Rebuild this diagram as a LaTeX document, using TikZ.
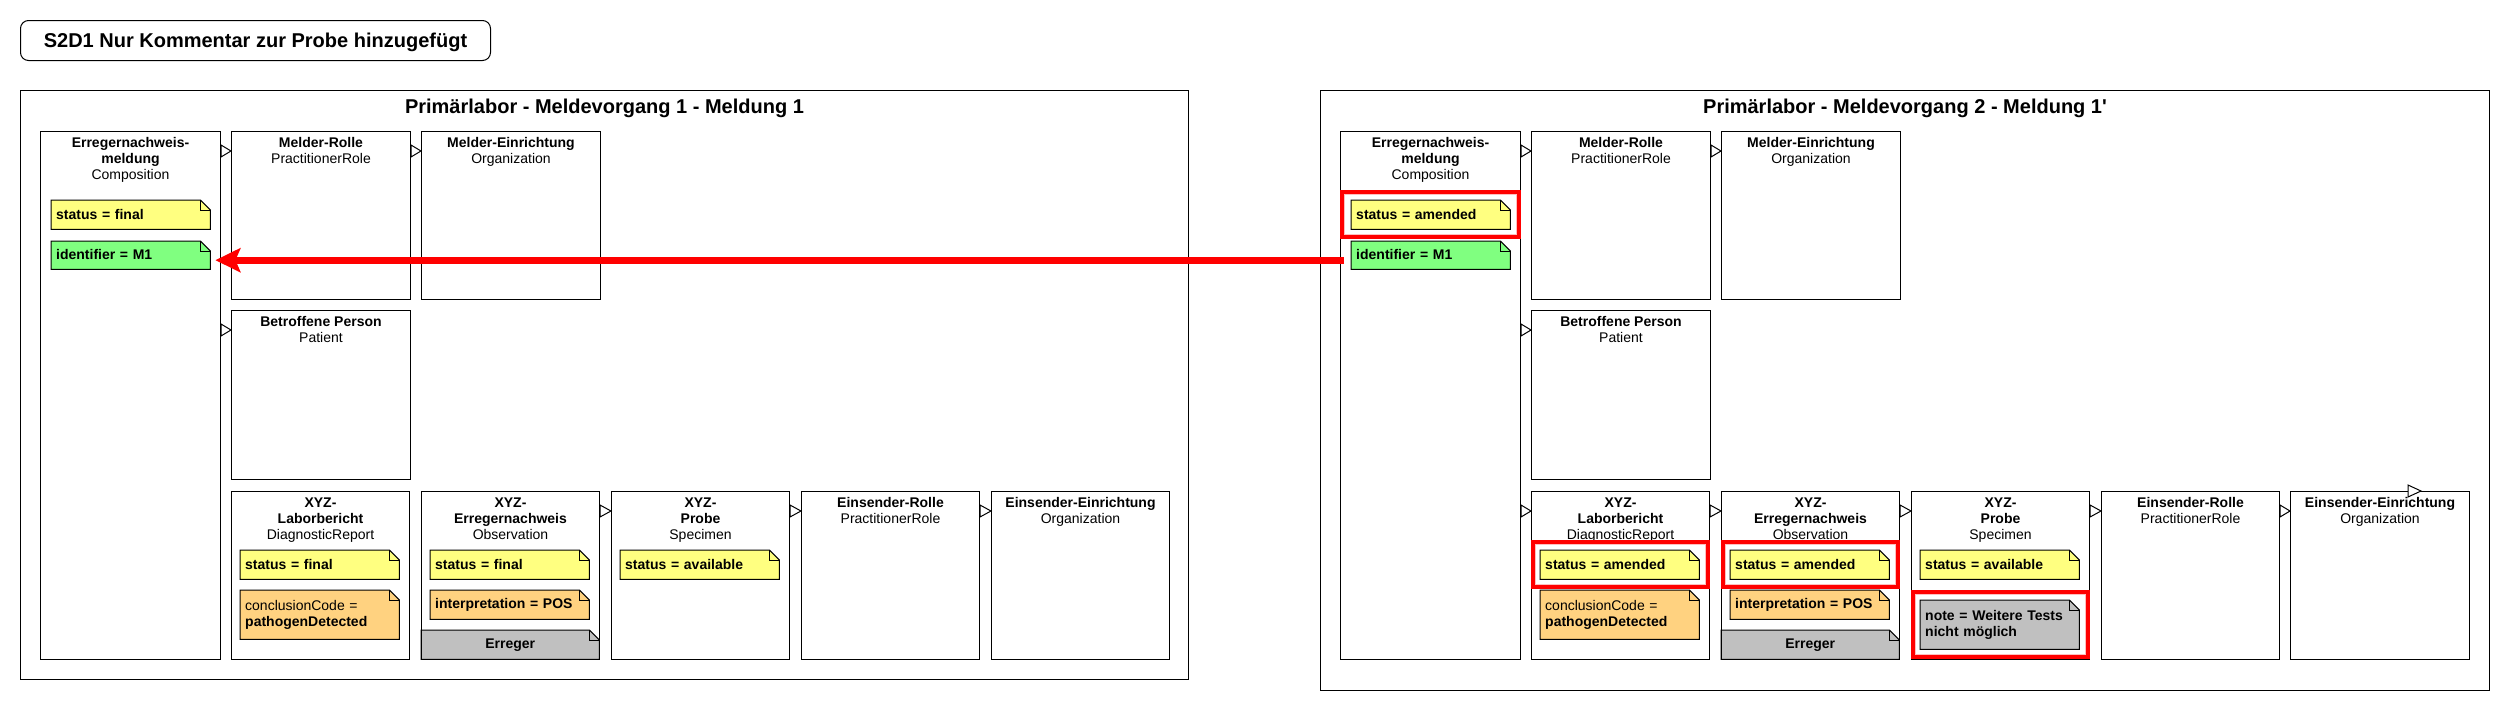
\documentclass[tikz,border=0pt]{standalone}
\usepackage{fontspec}
\setmainfont{Liberation Sans}
\usetikzlibrary{calc,arrows.meta}
\pgfdeclarelayer{bg}
\pgfsetlayers{bg,main}
\definecolor{noteY}{RGB}{255,255,128}
\definecolor{noteG}{RGB}{128,255,128}
\definecolor{noteO}{RGB}{255,210,128}
\definecolor{noteGr}{RGB}{192,192,192}
\definecolor{hlpink}{RGB}{255,190,190}
\newcommand\fs{\fontsize{14pt}{16pt}\selectfont}
\newcommand\fT{\fontsize{20pt}{24pt}\selectfont\bfseries}
\newcommand\sx{\rule[-2pt]{0pt}{13pt}}
\tikzset{
  box/.style={draw=black, line width=1pt, anchor=north west, inner sep=0pt, minimum width=179pt},
  boxlabel/.style={anchor=north, inner sep=0pt, align=center, font=\fs},
  notebox/.style={anchor=north west, inner xsep=5pt, inner ysep=0pt, minimum width=159pt,
    text width=149pt, align=left, font=\fs\bfseries, minimum height=29pt},
  barbox/.style={anchor=north west, inner sep=0pt, minimum width=178pt, minimum height=29pt,
    font=\fs\bfseries},
  tri/.style={draw=black, fill=white, line width=1pt, line join=miter},
  panel/.style={draw=black, line width=1pt, anchor=north west, inner sep=0pt},
  ptitle/.style={anchor=base, inner sep=0pt, font=\fT},
}
\newcommand\fold[2]{%
  \begin{pgfonlayer}{bg}
    \filldraw[fill=#2, draw=black, line width=1pt, line join=miter]
      (#1.north west) -- ($(#1.north east)+(-10,0)$) -- ($(#1.north east)+(0,10)$)
      -- (#1.south east) -- (#1.south west) -- cycle;
    \draw[line width=1pt] ($(#1.north east)+(-10,0)$) |- ($(#1.north east)+(0,10)$);
  \end{pgfonlayer}}
\newcommand\link[2]{%
  \path (#2.north west) ++(0,20) coordinate (lkA);
  \coordinate (lkB) at (#1.east |- lkA);
  \draw[tri] ($(lkB)+(0,-6)$) -- (lkA) -- ($(lkB)+(0,6)$) -- cycle;}
\newcommand\hl[2]{%
  \draw[red, line width=4pt] ($(#1.west |- #2.north)+(2,-8)$) rectangle ($(#1.east |- #2.south)+(-2,8)$);
  \draw[hlpink, line width=1pt] ($(#1.west |- #2.north)+(4.5,-5.5)$) rectangle ($(#1.east |- #2.south)+(-4.5,5.5)$);}
\begin{document}
\begin{tikzpicture}[x=1pt,y=-1pt]
\useasboundingbox (0,0) rectangle (2510,710);
\begin{pgfonlayer}{bg}
\fill[white] (0,0) rectangle (2510,710);
\end{pgfonlayer}

\node[draw=black, line width=1pt, rounded corners=8pt, anchor=north west, inner sep=0pt,
  minimum width=470pt, minimum height=40pt, font=\fT, text height=15pt, text depth=1pt]
  (title) at (20,20) {S2D1 Nur Kommentar zur Probe hinzugefügt};

% ---------------- left panel
\node[panel, minimum width=1168pt, minimum height=589pt] (Lpanel) at (20,90) {};
\node[ptitle] (Ltitle) at ($(Lpanel.north)+(0,23)$) {Primärlabor - Meldevorgang 1 - Meldung 1};

\node[box, minimum width=180pt, minimum height=528pt] (Lcomp) at (40,131) {};
\node[box, minimum height=168pt] (Lrole) at (231,131) {};
\node[box, minimum height=168pt] (Lorg) at (421,131) {};
\node[box, minimum height=169pt] (Lpat) at (231,310) {};
\node[box, minimum width=178pt, minimum height=168pt] (Lrep) at (231,491) {};
\node[box, minimum width=178pt, minimum height=168pt] (Lobs) at (421,491) {};
\node[box, minimum width=178pt, minimum height=168pt] (Lspec) at (611,491) {};
\node[box, minimum width=178pt, minimum height=168pt] (Lsrole) at (801,491) {};
\node[box, minimum width=178pt, minimum height=168pt] (Lsorg) at (991,491) {};

\node[boxlabel] (Lcomp-t) at ($(Lcomp.north)+(0,5)$) {\sx\textbf{Erregernachweis-}\\\sx\textbf{meldung}\\\sx Composition};
\node[boxlabel] (Lrole-t) at ($(Lrole.north)+(0,5)$) {\sx\textbf{Melder-Rolle}\\\sx PractitionerRole};
\node[boxlabel] (Lorg-t) at ($(Lorg.north)+(0,5)$) {\sx\textbf{Melder-Einrichtung}\\\sx Organization};
\node[boxlabel] (Lpat-t) at ($(Lpat.north)+(0,5)$) {\sx\textbf{Betroffene Person}\\\sx Patient};
\node[boxlabel] (Lrep-t) at ($(Lrep.north)+(0,5)$) {\sx\textbf{XYZ-}\\\sx\textbf{Laborbericht}\\\sx DiagnosticReport};
\node[boxlabel] (Lobs-t) at ($(Lobs.north)+(0,5)$) {\sx\textbf{XYZ-}\\\sx\textbf{Erregernachweis}\\\sx Observation};
\node[boxlabel] (Lspec-t) at ($(Lspec.north)+(0,5)$) {\sx\textbf{XYZ-}\\\sx\textbf{Probe}\\\sx Specimen};
\node[boxlabel] (Lsrole-t) at ($(Lsrole.north)+(0,5)$) {\sx\textbf{Einsender-Rolle}\\\sx PractitionerRole};
\node[boxlabel] (Lsorg-t) at ($(Lsorg.north)+(0,5)$) {\sx\textbf{Einsender-Einrichtung}\\\sx Organization};

\node[notebox] (Lcs) at (51,200) {\sx status = final}; \fold{Lcs}{noteY}
\node[notebox, minimum height=28pt] (Lid) at (51,241) {\sx identifier = M1}; \fold{Lid}{noteG}
\node[notebox] (Lrs) at (240,550) {\sx status = final}; \fold{Lrs}{noteY}
\node[notebox, minimum height=49pt] (Lrc) at (240,590) {\sx\mdseries conclusionCode =\\\sx\bfseries pathogenDetected}; \fold{Lrc}{noteO}
\node[notebox] (Los) at (430,550) {\sx status = final}; \fold{Los}{noteY}
\node[notebox] (Loi) at (430,590) {\sx interpretation = POS}; \fold{Loi}{noteO}
\node[barbox] (Loe) at (421,630) {\sx Erreger}; \fold{Loe}{noteGr}
\node[notebox] (Lss) at (620,550) {\sx status = available}; \fold{Lss}{noteY}

\link{Lcomp}{Lrole}
\link{Lrole}{Lorg}
\link{Lcomp}{Lpat}
\link{Lobs}{Lspec}
\link{Lspec}{Lsrole}
\link{Lsrole}{Lsorg}

% ---------------- right panel
\node[panel, minimum width=1169pt, minimum height=600pt] (Rpanel) at (1320,90) {};
\node[ptitle] (Rtitle) at ($(Rpanel.north)+(0,23)$) {Primärlabor - Meldevorgang 2 - Meldung 1\textquotesingle};

\node[box, minimum width=180pt, minimum height=528pt] (Rcomp) at (1340,131) {};
\node[box, minimum height=168pt] (Rrole) at (1531,131) {};
\node[box, minimum height=168pt] (Rorg) at (1721,131) {};
\node[box, minimum height=169pt] (Rpat) at (1531,310) {};
\node[box, minimum width=178pt, minimum height=168pt] (Rrep) at (1531,491) {};
\node[box, minimum width=178pt, minimum height=168pt] (Robs) at (1721,491) {};
\node[box, minimum width=178pt, minimum height=168pt] (Rspec) at (1911,491) {};
\node[box, minimum width=178pt, minimum height=168pt] (Rsrole) at (2101,491) {};
\node[box, minimum width=179pt, minimum height=168pt] (Rsorg) at (2290,491) {};

\node[boxlabel] (Rcomp-t) at ($(Rcomp.north)+(0,5)$) {\sx\textbf{Erregernachweis-}\\\sx\textbf{meldung}\\\sx Composition};
\node[boxlabel] (Rrole-t) at ($(Rrole.north)+(0,5)$) {\sx\textbf{Melder-Rolle}\\\sx PractitionerRole};
\node[boxlabel] (Rorg-t) at ($(Rorg.north)+(0,5)$) {\sx\textbf{Melder-Einrichtung}\\\sx Organization};
\node[boxlabel] (Rpat-t) at ($(Rpat.north)+(0,5)$) {\sx\textbf{Betroffene Person}\\\sx Patient};
\node[boxlabel] (Rrep-t) at ($(Rrep.north)+(0,5)$) {\sx\textbf{XYZ-}\\\sx\textbf{Laborbericht}\\\sx DiagnosticReport};
\node[boxlabel] (Robs-t) at ($(Robs.north)+(0,5)$) {\sx\textbf{XYZ-}\\\sx\textbf{Erregernachweis}\\\sx Observation};
\node[boxlabel] (Rspec-t) at ($(Rspec.north)+(0,5)$) {\sx\textbf{XYZ-}\\\sx\textbf{Probe}\\\sx Specimen};
\node[boxlabel] (Rsrole-t) at ($(Rsrole.north)+(0,5)$) {\sx\textbf{Einsender-Rolle}\\\sx PractitionerRole};
\node[boxlabel] (Rsorg-t) at ($(Rsorg.north)+(0,5)$) {\sx\textbf{Einsender-Einrichtung}\\\sx Organization};

\node[notebox] (Rcs) at (1351,200) {\sx status = amended}; \fold{Rcs}{noteY}
\node[notebox, minimum height=28pt] (Rid) at (1351,241) {\sx identifier = M1}; \fold{Rid}{noteG}
\node[notebox] (Rrs) at (1540,550) {\sx status = amended}; \fold{Rrs}{noteY}
\node[notebox, minimum height=49pt] (Rrc) at (1540,590) {\sx\mdseries conclusionCode =\\\sx\bfseries pathogenDetected}; \fold{Rrc}{noteO}
\node[notebox] (Ros) at (1730,550) {\sx status = amended}; \fold{Ros}{noteY}
\node[notebox] (Roi) at (1730,590) {\sx interpretation = POS}; \fold{Roi}{noteO}
\node[barbox] (Roe) at (1721,630) {\sx Erreger}; \fold{Roe}{noteGr}
\node[notebox] (Rss) at (1920,550) {\sx status = available}; \fold{Rss}{noteY}
\node[notebox, minimum height=49pt] (Rsn) at (1920,600) {\sx note = Weitere Tests\\\sx nicht möglich}; \fold{Rsn}{noteGr}

\link{Rcomp}{Rrole}
\link{Rrole}{Rorg}
\link{Rcomp}{Rpat}
\link{Rcomp}{Rrep}
\link{Rrep}{Robs}
\link{Robs}{Rspec}
\link{Rspec}{Rsrole}
\link{Rsrole}{Rsorg}
\draw[tri] ($(Rsorg.north)+(28,-6)$) -- ($(Rsorg.north)+(41,0)$) -- ($(Rsorg.north)+(28,6)$) -- cycle;

\hl{Rcomp}{Rcs}
\hl{Rrep}{Rrs}
\hl{Robs}{Ros}
\hl{Rspec}{Rsn}

% ---------------- red arrow
\draw[red, line width=7pt, -{Stealth[length=25pt, width=24pt, inset=5pt]}]
  ($(Rid.west)+(-7,5)$) -- ($(Lid.east)+(5,5)$);
\end{tikzpicture}
\end{document}
